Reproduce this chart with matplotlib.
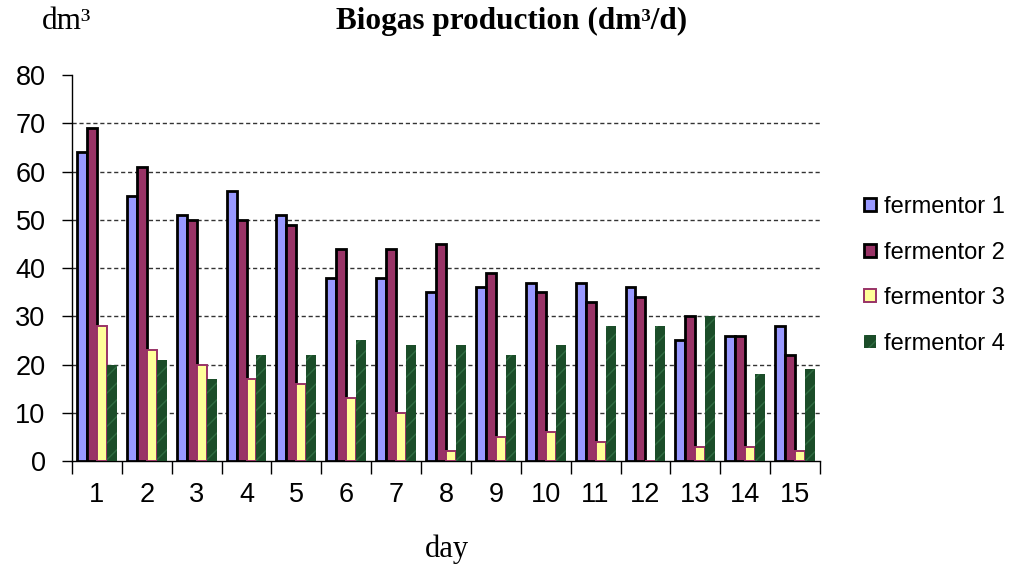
import numpy as np
import matplotlib
matplotlib.use("Agg")
import matplotlib.pyplot as plt

days = list(range(1, 16))
fermentor_1 = [64, 55, 51, 56, 51, 38, 38, 35, 36, 37, 37, 36, 25, 26, 28]
fermentor_2 = [69, 61, 50, 50, 49, 44, 44, 45, 39, 35, 33, 34, 30, 26, 22]
fermentor_3 = [28, 23, 20, 17, 16, 13, 10, 2, 5, 6, 4, 0, 3, 3, 2]
fermentor_4 = [20, 21, 17, 22, 22, 25, 24, 24, 22, 24, 28, 28, 30, 18, 19]
series_labels = ["fermentor 1", "fermentor 2", "fermentor 3", "fermentor 4"]
y_ticks = [0, 10, 20, 30, 40, 50, 60, 70, 80]

plt.rcParams["hatch.linewidth"] = 1.0

fig = plt.figure(figsize=(10.15, 5.65), dpi=100)
ax = fig.add_axes([0.0709, 0.184, 0.737, 0.683])

x = np.arange(len(days))
w = 0.2
styles = [
    dict(facecolor="#9999FF", edgecolor="black", linewidth=2.0),
    dict(facecolor="#993366", edgecolor="black", linewidth=2.0),
    dict(facecolor="#FFFF99", edgecolor="#993366", linewidth=1.4),
    dict(facecolor="#1b4d29", edgecolor="#2f6b41", linewidth=0, hatch="//"),
]
series = [fermentor_1, fermentor_2, fermentor_3, fermentor_4]
for i, (vals, st, lab) in enumerate(zip(series, styles, series_labels)):
    ax.bar(x + (i - 1.5) * w, vals, width=w, label=lab, zorder=3, **st)

ax.set_xlim(-0.5, len(days) - 0.5)
ax.set_ylim(0, 80)
ax.set_yticks(y_ticks)
ax.set_yticklabels([str(t) for t in y_ticks], fontsize=19.5, family="Liberation Sans")
ax.tick_params(axis="y", length=7, width=1, pad=12)

# category labels centered, tick marks at group boundaries
ax.set_xticks(x)
ax.set_xticklabels([str(d) for d in days], fontsize=19.5, family="Liberation Sans")
ax.tick_params(axis="x", length=0, pad=15)
ax.set_xticks(np.arange(-0.5, len(days)), minor=True)
ax.tick_params(axis="x", which="minor", length=9, width=1)

for yv in y_ticks[1:-1]:
    ax.axhline(yv, color="#333333", linestyle=(0, (3, 2)), linewidth=1.0, zorder=1)

for s in ["top", "right"]:
    ax.spines[s].set_visible(False)
ax.spines["left"].set_linewidth(1.0)
ax.spines["bottom"].set_linewidth(1.0)

fig.text(0.504, 0.962, "Biogas production (dm³/d)", ha="center", va="center",
         fontsize=22.5, fontweight="bold", family="Liberation Serif")
fig.text(0.066, 0.962, "dm³", ha="center", va="center", fontsize=22.5,
         family="Liberation Serif")
fig.text(0.44, 0.028, "day", ha="center", va="center", fontsize=22,
         family="Liberation Serif")

leg = ax.legend(loc="center left", bbox_to_anchor=(1.031, 0.481), frameon=False,
                prop={"family": "Liberation Sans", "size": 17},
                handlelength=0.47, handleheight=0.47, handletextpad=0.35,
                labelspacing=1.0)

fig.savefig("out.png", dpi=100)
